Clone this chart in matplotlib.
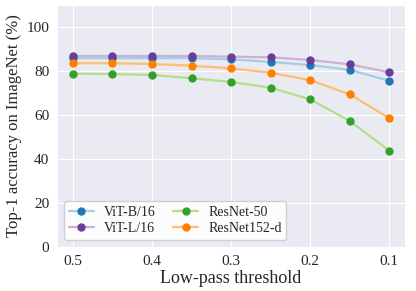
import matplotlib
matplotlib.use("Agg")
import matplotlib.pyplot as plt
import seaborn as sns

thresholds = [0.5, 0.45, 0.4, 0.35, 0.3, 0.25, 0.2, 0.15, 0.1]
vit_b16 = [85.8, 85.8, 85.8, 85.8, 85.3, 84.1, 82.7, 80.5, 75.5]
vit_l16 = [86.8, 86.8, 86.8, 86.8, 86.5, 86.2, 85.0, 83.0, 79.4]
resnet50 = [78.8, 78.6, 78.2, 76.7, 75.0, 72.4, 67.1, 57.3, 43.8]
resnet152d = [83.5, 83.5, 83.2, 82.4, 81.2, 79.2, 75.8, 69.4, 58.5]

sns.set_style("darkgrid")
plt.rcParams["font.family"] = ["Liberation Serif", "DejaVu Serif"]

pal = sns.color_palette("Paired")
series = [
    ("ViT-B/16", vit_b16, pal[0], pal[1]),
    ("ViT-L/16", vit_l16, pal[8], pal[9]),
    ("ResNet-50", resnet50, pal[2], pal[3]),
    ("ResNet152-d", resnet152d, pal[6], pal[7]),
]

fig, ax = plt.subplots(figsize=(4.16, 2.91), dpi=100)

for name, vals, line_c, mark_c in series:
    ax.plot(thresholds, vals, color=line_c, linewidth=1.6, marker="o",
            markersize=5, markerfacecolor=mark_c, markeredgecolor=mark_c,
            label=name)

ax.set_ylim(0, 110)
ax.set_yticks([0, 20, 40, 60, 80, 100])
ax.set_xticks([0.5, 0.4, 0.3, 0.2, 0.1])
ax.set_xticklabels(["0.5", "0.4", "0.3", "0.2", "0.1"])
ax.invert_xaxis()
ax.tick_params(labelsize=11, pad=2)
ax.set_xlabel("Low-pass threshold", fontsize=13, labelpad=2)
ax.set_ylabel("Top-1 accuracy on ImageNet (%)", fontsize=12, labelpad=3)

ax.legend(loc="lower left", ncol=2, fontsize=10, frameon=True,
          facecolor="white", framealpha=0.9, columnspacing=1.3,
          handlelength=1.8, handletextpad=0.7, labelspacing=0.25,
          borderpad=0.35, borderaxespad=0.5)

fig.subplots_adjust(left=0.137, right=0.974, top=0.983, bottom=0.151)
fig.savefig("out.png", dpi=100)
